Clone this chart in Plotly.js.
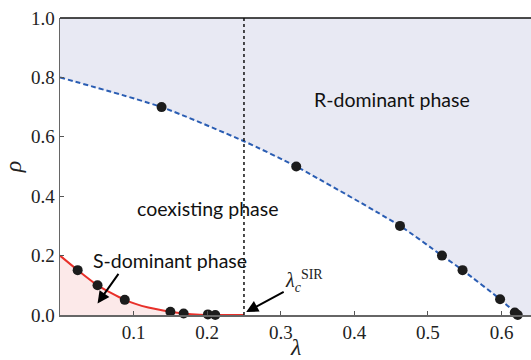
<!DOCTYPE html>
<html>
<head>
<meta charset="utf-8">
<script src="https://cdn.plot.ly/plotly-3.0.1.min.js"></script>
<style>html,body{margin:0;padding:0;background:#fff;}#chart{width:531px;height:360px;}</style>
</head>
<body>
<div id="chart"></div>
<script>
// R-dominant boundary (blue dashed) and its simulation points
const blueLineX = [0.0, 0.138, 0.25, 0.321, 0.462, 0.519, 0.547, 0.598, 0.618, 0.624];
const blueLineY = [0.80, 0.70, 0.585, 0.50, 0.30, 0.20, 0.151, 0.053, 0.010, 0.0];
const blueDotX = [0.138, 0.321, 0.462, 0.519, 0.547, 0.598, 0.618, 0.622];
const blueDotY = [0.70, 0.50, 0.30, 0.20, 0.151, 0.053, 0.008, 0.0];
// S-dominant boundary (red solid) and its simulation points
const redLineX = [0.0, 0.024, 0.051, 0.088, 0.12, 0.150, 0.168, 0.19, 0.21, 0.25];
const redLineY = [0.20, 0.151, 0.10, 0.051, 0.025, 0.011, 0.005, 0.001, 0.0, 0.0];
const redDotX = [0.024, 0.051, 0.088, 0.150, 0.168, 0.201, 0.211];
const redDotY = [0.151, 0.10, 0.051, 0.011, 0.005, 0.002, 0.0];
const lambdaSIR = 0.25;
const xTicks = [0.1, 0.2, 0.3, 0.4, 0.5, 0.6];
const yTicks = [0.0, 0.2, 0.4, 0.6, 0.8, 1.0];
const xMax = 0.64;

const fillX = blueLineX.concat([xMax, xMax, 0]);
const fillY = blueLineY.concat([0, 1, 1]);

const traces = [
  {x: fillX, y: fillY, mode: 'lines', fill: 'toself', fillcolor: '#e8e9f3', line: {width: 0, color: 'rgba(0,0,0,0)'}, hoverinfo: 'skip'},
  {x: redLineX, y: redLineY, mode: 'lines', fill: 'tozeroy', fillcolor: '#fce9e9', line: {color: '#e8302a', width: 2, shape: 'spline', smoothing: 0.6}},
  {x: blueLineX, y: blueLineY, mode: 'lines', line: {color: '#2a5db3', width: 2, dash: '5px,3px', shape: 'spline', smoothing: 0.6}},
  {x: blueDotX, y: blueDotY, mode: 'markers', marker: {color: '#1c1c1c', size: 10}, cliponaxis: false},
  {x: redDotX, y: redDotY, mode: 'markers', marker: {color: '#1c1c1c', size: 10}, cliponaxis: false}
];

const serif = 'Liberation Serif';
const tickFont = {family: serif, size: 19, color: '#222'};
const annFont = {family: 'Lato', size: 19.5, color: '#111'};

const layout = {
  width: 531, height: 360,
  margin: {l: 60, r: 0, t: 18, b: 45},
  paper_bgcolor: '#fff', plot_bgcolor: '#fff',
  showlegend: false,
  xaxis: {range: [0, xMax], tickvals: xTicks, ticktext: xTicks.map(v => v.toFixed(1)), ticks: 'inside', ticklen: 4, tickcolor: '#555',
          showline: true, linecolor: '#666', linewidth: 1.5, showgrid: false, zeroline: false, tickfont: tickFont},
  yaxis: {range: [0, 1], tickvals: yTicks, ticktext: yTicks.map(v => v.toFixed(1)), ticks: 'inside', ticklen: 4, tickcolor: '#555',
          showline: true, linecolor: '#666', linewidth: 1.5, showgrid: false, zeroline: false, tickfont: tickFont,
          title: {text: '<i>ρ</i>', font: {family: serif, size: 24, color: '#222'}, standoff: 12}},
  shapes: [
    {type: 'line', xref: 'x', yref: 'y', x0: lambdaSIR, x1: lambdaSIR, y0: 0, y1: 1, line: {color: '#111', width: 1.5, dash: 'dot'}},
    {type: 'line', xref: 'paper', yref: 'paper', x0: 0, x1: 1, y0: 1, y1: 1, line: {color: '#111', width: 1.5}}
  ],
  annotations: [
    {x: 0.5, y: 0, xref: 'paper', yref: 'paper', yanchor: 'middle', yshift: -32, text: '<i>λ</i>', showarrow: false, font: {family: serif, size: 24, color: '#222'}},
    {x: 0.451, y: 0.727, xref: 'x', yref: 'y', text: 'R-dominant phase', showarrow: false, font: annFont},
    {x: 0.20, y: 0.36, xref: 'x', yref: 'y', text: 'coexisting phase', showarrow: false, font: annFont},
    {x: 0.15, y: 0.183, xref: 'x', yref: 'y', text: 'S-dominant phase', showarrow: false, font: annFont},
    {x: 0.051, y: 0.039, xref: 'x', yref: 'y', text: '', showarrow: true, arrowhead: 2, arrowsize: 1.2, arrowwidth: 2, arrowcolor: '#000', ax: 22, ay: -31},
    {x: 0.253, y: 0.01, xref: 'x', yref: 'y', text: '', showarrow: true, arrowhead: 2, arrowsize: 1.2, arrowwidth: 2, arrowcolor: '#000', ax: 39, ay: -21},
    {x: 0.331, y: 0.115, xref: 'x', yref: 'y', text: '<i>λ</i><sub><i>c</i></sub><sup>SIR</sup>', showarrow: false, font: {family: serif, size: 20, color: '#222'}}
  ]
};

Plotly.newPlot('chart', traces, layout, {displayModeBar: false, staticPlot: true});
</script>
</body>
</html>
